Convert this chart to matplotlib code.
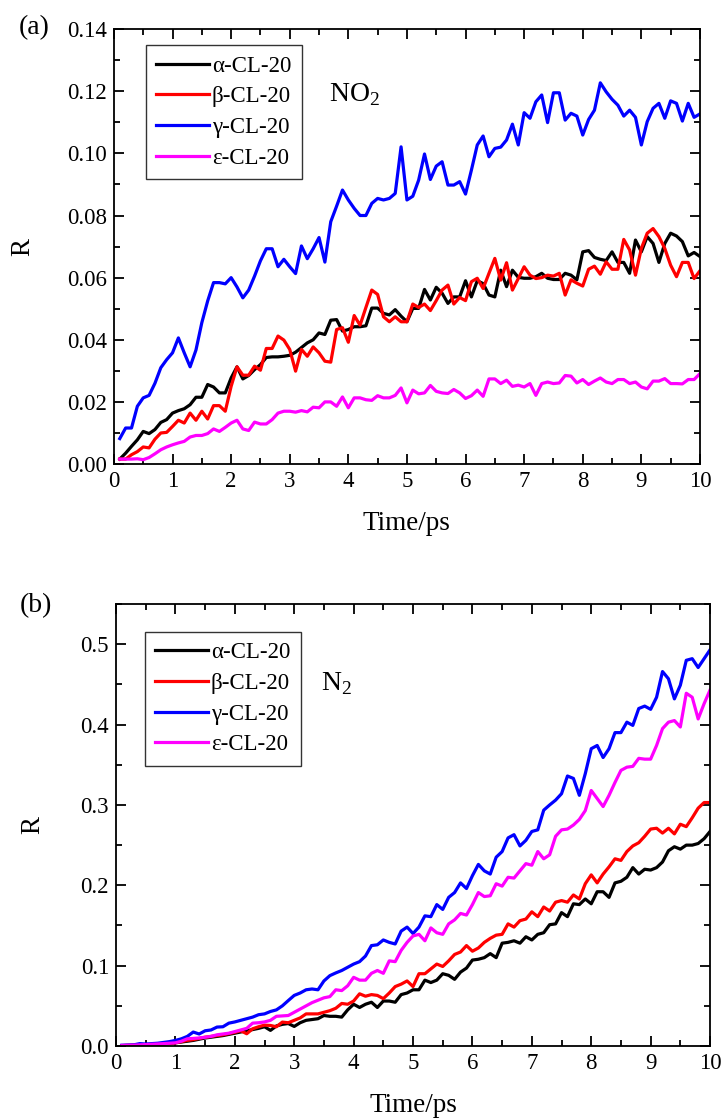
import numpy as np
import matplotlib
matplotlib.use("Agg")
import matplotlib.pyplot as plt
from matplotlib.ticker import MultipleLocator

plt.rcParams['font.family'] = ['Liberation Serif', 'DejaVu Serif']
plt.rcParams['mathtext.fontset'] = 'custom'
plt.rcParams['mathtext.rm'] = 'Liberation Serif'

# time axis, ps
t = np.round(np.arange(1, 101) * 0.1, 1)

labels = ["α-CL-20", "β-CL-20", "γ-CL-20", "ε-CL-20"]
colors = ["#000000", "#ff0000", "#0000ff", "#ff00ff"]

# ---- (a) NO2 ----------------------------------------------------------------
alpha_no2 = [0.0016, 0.0035, 0.0057, 0.0078, 0.0105, 0.0098, 0.0111, 0.0134, 0.0143, 0.0164,
             0.0172, 0.0178, 0.0191, 0.0215, 0.0215, 0.0256, 0.0248, 0.0229, 0.0229, 0.0277,
             0.0313, 0.0274, 0.0285, 0.0304, 0.0320, 0.0343, 0.0345, 0.0345, 0.0347, 0.0350,
             0.0360, 0.0375, 0.0390, 0.0400, 0.0422, 0.0417, 0.0463, 0.0465, 0.0428, 0.0433,
             0.0442, 0.0442, 0.0445, 0.0502, 0.0502, 0.0485, 0.0480, 0.0497, 0.0476, 0.0458,
             0.0501, 0.0501, 0.0562, 0.0528, 0.0569, 0.0550, 0.0517, 0.0538, 0.0538, 0.0590,
             0.0538, 0.0590, 0.0581, 0.0544, 0.0538, 0.0624, 0.0571, 0.0624, 0.0601, 0.0598,
             0.0598, 0.0603, 0.0614, 0.0598, 0.0594, 0.0594, 0.0614, 0.0608, 0.0593, 0.0683,
             0.0687, 0.0665, 0.0659, 0.0655, 0.0683, 0.0649, 0.0649, 0.0614, 0.0721, 0.0683,
             0.0732, 0.0710, 0.0649, 0.0710, 0.0743, 0.0734, 0.0716, 0.0670, 0.0681, 0.0668]
beta_no2 = [0.0016, 0.0016, 0.0030, 0.0040, 0.0055, 0.0052, 0.0080, 0.0100, 0.0102, 0.0121,
            0.0141, 0.0132, 0.0164, 0.0141, 0.0170, 0.0145, 0.0188, 0.0188, 0.0170, 0.0250,
            0.0313, 0.0286, 0.0286, 0.0315, 0.0302, 0.0372, 0.0372, 0.0412, 0.0399, 0.0369,
            0.0299, 0.0369, 0.0347, 0.0377, 0.0358, 0.0331, 0.0328, 0.0433, 0.0439, 0.0392,
            0.0478, 0.0447, 0.0504, 0.0560, 0.0546, 0.0474, 0.0458, 0.0474, 0.0458, 0.0458,
            0.0515, 0.0504, 0.0515, 0.0494, 0.0526, 0.0560, 0.0576, 0.0515, 0.0536, 0.0526,
            0.0587, 0.0598, 0.0565, 0.0614, 0.0662, 0.0592, 0.0648, 0.0560, 0.0597, 0.0635,
            0.0608, 0.0597, 0.0600, 0.0608, 0.0605, 0.0614, 0.0544, 0.0593, 0.0582, 0.0573,
            0.0627, 0.0637, 0.0611, 0.0651, 0.0627, 0.0627, 0.0723, 0.0689, 0.0608, 0.0694,
            0.0743, 0.0758, 0.0732, 0.0694, 0.0640, 0.0603, 0.0649, 0.0649, 0.0597, 0.0622]
gamma_no2 = [0.0082, 0.0116, 0.0116, 0.0186, 0.0213, 0.0221, 0.0260, 0.0310, 0.0336, 0.0358,
             0.0406, 0.0358, 0.0313, 0.0367, 0.0455, 0.0525, 0.0584, 0.0584, 0.0580, 0.0600,
             0.0570, 0.0535, 0.0560, 0.0605, 0.0654, 0.0693, 0.0693, 0.0635, 0.0659, 0.0635,
             0.0613, 0.0702, 0.0661, 0.0693, 0.0729, 0.0650, 0.0780, 0.0830, 0.0882, 0.0850,
             0.0823, 0.0800, 0.0800, 0.0839, 0.0855, 0.0850, 0.0855, 0.0871, 0.1021, 0.0850,
             0.0862, 0.0914, 0.0998, 0.0916, 0.0959, 0.0973, 0.0898, 0.0898, 0.0909, 0.0869,
             0.0946, 0.1027, 0.1056, 0.0989, 0.1016, 0.1020, 0.1043, 0.1094, 0.1027, 0.1131,
             0.1113, 0.1166, 0.1188, 0.1099, 0.1195, 0.1195, 0.1107, 0.1129, 0.1120, 0.1059,
             0.1109, 0.1139, 0.1227, 0.1198, 0.1174, 0.1155, 0.1120, 0.1139, 0.1116, 0.1027,
             0.1102, 0.1145, 0.1161, 0.1113, 0.1169, 0.1161, 0.1104, 0.1161, 0.1116, 0.1127]
eps_no2 = [0.0016, 0.0016, 0.0016, 0.0017, 0.0014, 0.0021, 0.0033, 0.0046, 0.0055, 0.0062,
           0.0068, 0.0073, 0.0087, 0.0092, 0.0092, 0.0098, 0.0113, 0.0105, 0.0118, 0.0132,
           0.0141, 0.0113, 0.0108, 0.0135, 0.0129, 0.0129, 0.0143, 0.0164, 0.0170, 0.0170,
           0.0167, 0.0172, 0.0168, 0.0183, 0.0181, 0.0200, 0.0200, 0.0186, 0.0216, 0.0181,
           0.0213, 0.0213, 0.0207, 0.0205, 0.0220, 0.0213, 0.0213, 0.0221, 0.0245, 0.0197,
           0.0238, 0.0226, 0.0229, 0.0253, 0.0234, 0.0229, 0.0227, 0.0240, 0.0229, 0.0211,
           0.0220, 0.0238, 0.0218, 0.0274, 0.0274, 0.0259, 0.0270, 0.0250, 0.0254, 0.0248,
           0.0259, 0.0221, 0.0259, 0.0264, 0.0259, 0.0261, 0.0285, 0.0283, 0.0261, 0.0272,
           0.0256, 0.0267, 0.0277, 0.0264, 0.0259, 0.0272, 0.0272, 0.0259, 0.0264, 0.0248,
           0.0242, 0.0267, 0.0267, 0.0275, 0.0259, 0.0259, 0.0258, 0.0272, 0.0272, 0.0291]

# ---- (b) N2 -----------------------------------------------------------------
alpha_n2 = [0.0005, 0.0008, 0.0010, 0.0012, 0.0015, 0.0018, 0.0022, 0.0026, 0.0030, 0.0040,
            0.0050, 0.0060, 0.0070, 0.0085, 0.0100, 0.0110, 0.0120, 0.0130, 0.0145, 0.0160,
            0.0175, 0.0190, 0.0205, 0.0220, 0.0240, 0.0195, 0.0250, 0.0270, 0.0280, 0.0244,
            0.0290, 0.0320, 0.0330, 0.0340, 0.0380, 0.0370, 0.0370, 0.0360, 0.0450, 0.0520,
            0.0480, 0.0520, 0.0545, 0.0480, 0.0560, 0.0560, 0.0545, 0.0640, 0.0660, 0.0700,
            0.070, 0.082, 0.079, 0.082, 0.090, 0.088, 0.083, 0.092, 0.097, 0.107,
            0.108, 0.110, 0.115, 0.110, 0.128, 0.129, 0.131, 0.128, 0.136, 0.132,
            0.139, 0.141, 0.151, 0.152, 0.166, 0.161, 0.177, 0.176, 0.183, 0.177,
            0.192, 0.192, 0.185, 0.203, 0.205, 0.210, 0.222, 0.214, 0.220, 0.219,
            0.222, 0.229, 0.243, 0.248, 0.245, 0.250, 0.250, 0.252, 0.258, 0.267]
beta_n2 = [0.0005, 0.0008, 0.0010, 0.0013, 0.0016, 0.0020, 0.0024, 0.0028, 0.0033, 0.0040,
           0.0055, 0.0070, 0.0080, 0.0095, 0.0110, 0.0120, 0.0130, 0.0140, 0.0155, 0.0170,
           0.0190, 0.0153, 0.0215, 0.0240, 0.0260, 0.0256, 0.0240, 0.0298, 0.0290, 0.0320,
           0.0350, 0.0400, 0.0400, 0.0400, 0.0420, 0.0440, 0.0470, 0.0530, 0.0520, 0.0560,
           0.065, 0.062, 0.064, 0.063, 0.059, 0.066, 0.074, 0.077, 0.081, 0.074,
           0.090, 0.090, 0.096, 0.102, 0.099, 0.106, 0.114, 0.117, 0.125, 0.118,
           0.122, 0.129, 0.134, 0.138, 0.139, 0.152, 0.148, 0.156, 0.158, 0.167,
           0.161, 0.173, 0.168, 0.179, 0.181, 0.179, 0.188, 0.183, 0.202, 0.213,
           0.203, 0.214, 0.223, 0.233, 0.231, 0.242, 0.249, 0.253, 0.261, 0.270,
           0.271, 0.265, 0.271, 0.264, 0.276, 0.273, 0.284, 0.296, 0.303, 0.303]
gamma_n2 = [0.0010, 0.0012, 0.0015, 0.0030, 0.0025, 0.0030, 0.0035, 0.0045, 0.0055, 0.0070,
            0.0090, 0.0120, 0.0174, 0.0150, 0.0190, 0.0200, 0.0236, 0.0240, 0.0285, 0.0300,
            0.032, 0.034, 0.036, 0.039, 0.040, 0.043, 0.045, 0.050, 0.0566, 0.063,
            0.066, 0.070, 0.071, 0.070, 0.081, 0.0876, 0.091, 0.094, 0.098, 0.102,
            0.105, 0.112, 0.125, 0.126, 0.132, 0.129, 0.127, 0.143, 0.148, 0.140,
            0.148, 0.162, 0.161, 0.176, 0.170, 0.185, 0.191, 0.203, 0.196, 0.212,
            0.226, 0.218, 0.214, 0.235, 0.242, 0.259, 0.263, 0.249, 0.256, 0.267,
            0.269, 0.2935, 0.300, 0.306, 0.314, 0.336, 0.333, 0.312, 0.339, 0.370,
            0.374, 0.359, 0.370, 0.390, 0.390, 0.403, 0.399, 0.420, 0.423, 0.419,
            0.434, 0.466, 0.457, 0.432, 0.449, 0.480, 0.482, 0.471, 0.482, 0.493]
eps_n2 = [0.0008, 0.0010, 0.0012, 0.0015, 0.0018, 0.0022, 0.0026, 0.0030, 0.0035, 0.0040,
          0.0060, 0.0090, 0.0095, 0.0100, 0.0110, 0.0120, 0.0140, 0.0150, 0.0160, 0.0180,
          0.020, 0.022, 0.0285, 0.029, 0.030, 0.032, 0.037, 0.0375, 0.038, 0.042,
          0.046, 0.050, 0.054, 0.057, 0.060, 0.0615, 0.070, 0.069, 0.075, 0.0855,
          0.082, 0.082, 0.0905, 0.094, 0.0905, 0.106, 0.105, 0.119, 0.129, 0.137,
          0.139, 0.131, 0.147, 0.141, 0.139, 0.152, 0.157, 0.165, 0.163, 0.176,
          0.191, 0.186, 0.187, 0.202, 0.199, 0.210, 0.209, 0.218, 0.227, 0.225,
          0.242, 0.233, 0.238, 0.261, 0.269, 0.270, 0.275, 0.282, 0.293, 0.318,
          0.308, 0.298, 0.312, 0.328, 0.343, 0.347, 0.348, 0.358, 0.357, 0.357,
          0.374, 0.395, 0.403, 0.405, 0.397, 0.439, 0.434, 0.407, 0.426, 0.443]


def style_axes(ax, ymax, ymajor, yminor, yfmt, ypad):
    ax.set_xlim(0, 10)
    ax.set_ylim(0, ymax)
    ax.xaxis.set_major_locator(MultipleLocator(1))
    ax.xaxis.set_minor_locator(MultipleLocator(0.5))
    ax.yaxis.set_major_locator(MultipleLocator(ymajor))
    ax.yaxis.set_minor_locator(MultipleLocator(yminor))
    ax.yaxis.set_major_formatter(plt.FormatStrFormatter(yfmt))
    ax.tick_params(which='both', direction='in', top=True, right=True, width=1.3)
    ax.tick_params(which='major', length=7, labelsize=16.5, pad=5)
    ax.tick_params(which='minor', length=4)
    for s in ax.spines.values():
        s.set_linewidth(1.3)
    ax.set_xlabel("Time/ps", fontsize=19.5, labelpad=14)
    ax.set_ylabel("R", fontsize=19.5, labelpad=ypad)


def add_legend(ax, anchor):
    leg = ax.legend(loc='upper left', bbox_to_anchor=anchor, borderaxespad=0,
                    fontsize=16.5, frameon=True, fancybox=False, edgecolor='black',
                    handlelength=2.3, handletextpad=0.12, labelspacing=0.42, borderpad=0.45)
    leg.get_frame().set_linewidth(1.0)


fig = plt.figure(figsize=(7.21, 11.19), dpi=100)

# (a)
ax1 = fig.add_axes([0.158, 0.5853, 0.8128, 0.3887])
for y, lab, c in zip([alpha_no2, beta_no2, gamma_no2, eps_no2], labels, colors):
    ax1.plot(t, y, color=c, lw=2.3, label=lab)
style_axes(ax1, 0.14, 0.02, 0.01, '%.2f', 23)
add_legend(ax1, (0.055, 0.963))
ax1.text(0.41, 0.85, r"NO$_\mathregular{2}$", transform=ax1.transAxes, fontsize=20,
         ha='center', va='center')
fig.text(0.026, 0.975, "(a)", fontsize=20, ha='left', va='center')

# (b)
ax2 = fig.add_axes([0.1609, 0.0652, 0.8239, 0.395])
for y, lab, c in zip([alpha_n2, beta_n2, gamma_n2, eps_n2], labels, colors):
    ax2.plot(t, y, color=c, lw=2.3, label=lab)
style_axes(ax2, 0.55, 0.1, 0.05, '%.1f', 25)
add_legend(ax2, (0.049, 0.937))
ax2.text(0.372, 0.82, r"N$_\mathregular{2}$", transform=ax2.transAxes, fontsize=20,
         ha='center', va='center')
fig.text(0.028, 0.459, "(b)", fontsize=20, ha='left', va='center')

fig.savefig("out.png", dpi=100)
